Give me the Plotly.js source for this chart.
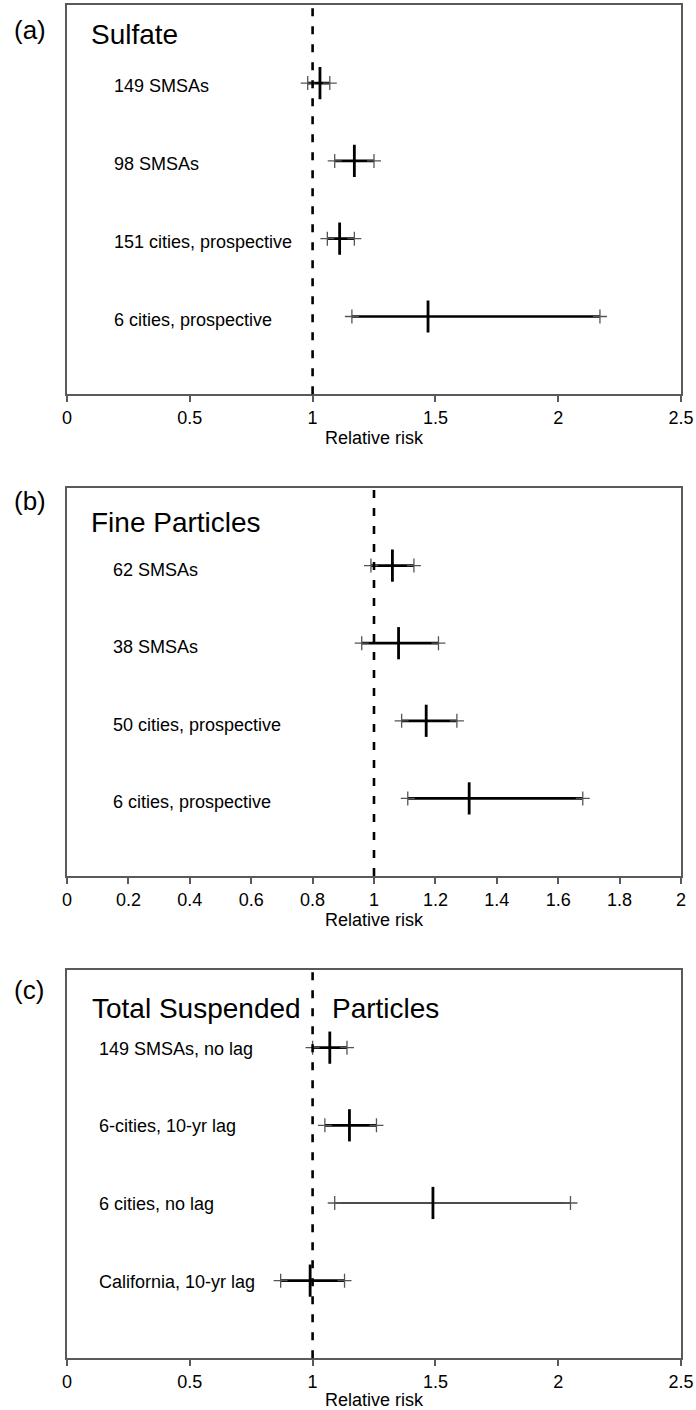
<!DOCTYPE html>
<html>
<head>
<meta charset="utf-8">
<script src="https://cdn.plot.ly/plotly-3.0.1.min.js"></script>
<style>
  html, body { margin: 0; padding: 0; background: #fff; }
  #chart { width: 696px; height: 1410px; }
</style>
</head>
<body>
<div id="chart"></div>
<script>
// ---------- Data ----------
const panelLetters = ["(a)", "(b)", "(c)"];
const panelTitles = ["Sulfate", "Fine Particles", "Total Suspended|Particles"];

const sulfateStudies = ["149 SMSAs", "98 SMSAs", "151 cities, prospective", "6 cities, prospective"];
const sulfateRR    = [1.03, 1.17, 1.11, 1.47];
const sulfateLower = [0.98, 1.09, 1.06, 1.16];
const sulfateUpper = [1.07, 1.25, 1.17, 2.17];

const fineStudies = ["62 SMSAs", "38 SMSAs", "50 cities, prospective", "6 cities, prospective"];
const fineRR    = [1.06, 1.08, 1.17, 1.31];
const fineLower = [0.99, 0.96, 1.09, 1.11];
const fineUpper = [1.13, 1.21, 1.27, 1.68];

const tspStudies = ["149 SMSAs, no lag", "6-cities, 10-yr lag", "6 cities, no lag", "California, 10-yr lag"];
const tspRR    = [1.07, 1.15, 1.49, 0.99];
const tspLower = [1.00, 1.05, 1.09, 0.87];
const tspUpper = [1.14, 1.26, 2.05, 1.13];

const xMax = [2.5, 2, 2.5];
const xTickVals = [
  [0, 0.5, 1, 1.5, 2, 2.5],
  [0, 0.2, 0.4, 0.6, 0.8, 1, 1.2, 1.4, 1.6, 1.8, 2],
  [0, 0.5, 1, 1.5, 2, 2.5]
];
const xTickText = [
  ["0", "0.5", "1", "1.5", "2", "2.5"],
  ["0", "0.2", "0.4", "0.6", "0.8", "1", "1.2", "1.4", "1.6", "1.8", "2"],
  ["0", "0.5", "1", "1.5", "2", "2.5"]
];
const axisTitle = "Relative risk";
const nullValue = 1;

// ---------- Layout / styling ----------
const W = 696, H = 1410;
const FONT = "Arial, 'Liberation Sans', Helvetica, sans-serif";
const plotLeft = 67, plotRight = 681;
const panelPx = [[5.3, 394.3], [488, 876], [970, 1358.3]];   // top, bottom (pixels)
const letterPx = [30, 501, 990];
const titlePx = [35, 522, 1008];
const labelLeftPx = [112, 111, 97];
const labelShift = [-3, -4, -1];
const thinBars = [[], [], [2]];   // "6 cities, no lag" drawn with thin line

const panels = [
  {studies: sulfateStudies, rr: sulfateRR, lo: sulfateLower, hi: sulfateUpper},
  {studies: fineStudies, rr: fineRR, lo: fineLower, hi: fineUpper},
  {studies: tspStudies, rr: tspRR, lo: tspLower, hi: tspUpper}
];

const frameColor = "#5a5a5a";
const capColor = "#555555";

const traces = [];
const shapes = [];
const annotations = [];
const layout = {
  width: W, height: H,
  margin: {l: plotLeft, r: W - plotRight, t: 0, b: 0},
  paper_bgcolor: "#fff", plot_bgcolor: "#fff",
  showlegend: false,
  font: {family: FONT, size: 18, color: "#000"},
  shapes: shapes,
  annotations: annotations
};

const plotW = plotRight - plotLeft;

panels.forEach((p, i) => {
  const ax = i === 0 ? "" : String(i + 1);
  const xa = "x" + ax, ya = "y" + ax;
  const pos = p.studies.map((_, k) => k + 1);
  const [topPx, botPx] = panelPx[i];

  layout["xaxis" + ax] = {
    domain: [0, 1],
    anchor: ya,
    range: [0, xMax[i]],
    tickmode: "array",
    tickvals: xTickVals[i],
    ticktext: xTickText[i],
    ticks: "outside", ticklen: 6, tickwidth: 2, tickcolor: frameColor,
    showline: true, linewidth: 2, linecolor: frameColor, mirror: true,
    showgrid: false, zeroline: false,
    tickfont: {family: FONT, size: 18, color: "#000"},
    title: {text: axisTitle, font: {family: FONT, size: 18, color: "#000"}, standoff: 2},
    fixedrange: true
  };
  layout["yaxis" + ax] = {
    domain: [1 - botPx / H, 1 - topPx / H],
    anchor: xa,
    range: [5, 0],
    showticklabels: false, ticks: "",
    showline: true, linewidth: 2, linecolor: frameColor, mirror: true,
    showgrid: false, zeroline: false,
    fixedrange: true
  };

  // Dashed null line
  shapes.push({
    type: "line", xref: xa, yref: ya + " domain",
    x0: nullValue, x1: nullValue, y0: 0, y1: 1,
    line: {color: "#000", width: 2.6, dash: "8px,10px"}
  });

  // Bars (horizontal CI lines), one trace per study for width control
  p.studies.forEach((s, k) => {
    const thin = thinBars[i].includes(k);
    traces.push({
      type: "scatter", mode: "markers", xaxis: xa, yaxis: ya,
      x: [p.rr[k]], y: [pos[k]],
      marker: {size: 0.1, color: "rgba(0,0,0,0)"},
      error_x: {
        type: "data", symmetric: false,
        array: [p.hi[k] - p.rr[k]], arrayminus: [p.rr[k] - p.lo[k]],
        width: 0, thickness: thin ? 1.5 : 2.7, color: thin ? "#111" : "#000"
      },
      hoverinfo: "skip"
    });
  });

  // End caps
  traces.push({
    type: "scatter", mode: "markers", xaxis: xa, yaxis: ya,
    x: p.lo.concat(p.hi), y: pos.concat(pos),
    marker: {symbol: "cross-thin", size: 10, line: {width: 1.3, color: capColor}, color: capColor},
    hoverinfo: "skip"
  });

  // Point estimates
  traces.push({
    type: "scatter", mode: "markers", xaxis: xa, yaxis: ya,
    x: p.rr, y: pos,
    marker: {symbol: "line-ns", size: 23, line: {width: 2.8, color: "#000"}, color: "#000"},
    hoverinfo: "skip"
  });

  // Study labels
  p.studies.forEach((s, k) => {
    annotations.push({
      xref: xa + " domain", yref: ya,
      x: (labelLeftPx[i] - plotLeft) / plotW, y: pos[k],
      xanchor: "left", yanchor: "middle",
      text: s, showarrow: false, yshift: labelShift[i],
      font: {family: FONT, size: 18, color: "#000"}
    });
  });

  // Panel title
  const tparts = panelTitles[i].split("|");
  const titleX = tparts.length === 1 ? [89] : [90, 330];
  tparts.forEach((t, j) => {
    annotations.push({
      xref: "paper", yref: "paper",
      x: (titleX[j] - plotLeft) / plotW, y: 1 - titlePx[i] / H,
      xanchor: "left", yanchor: "middle",
      text: t, showarrow: false,
      font: {family: FONT, size: 28, color: "#000"}
    });
  });

  // Panel letter
  annotations.push({
    xref: "paper", yref: "paper",
    x: (12 - plotLeft) / plotW, y: 1 - letterPx[i] / H,
    xanchor: "left", yanchor: "middle",
    text: panelLetters[i], showarrow: false,
    font: {family: FONT, size: 26, color: "#000"}
  });
});

Plotly.newPlot("chart", traces, layout, {staticPlot: true, displayModeBar: false});
</script>
</body>
</html>
